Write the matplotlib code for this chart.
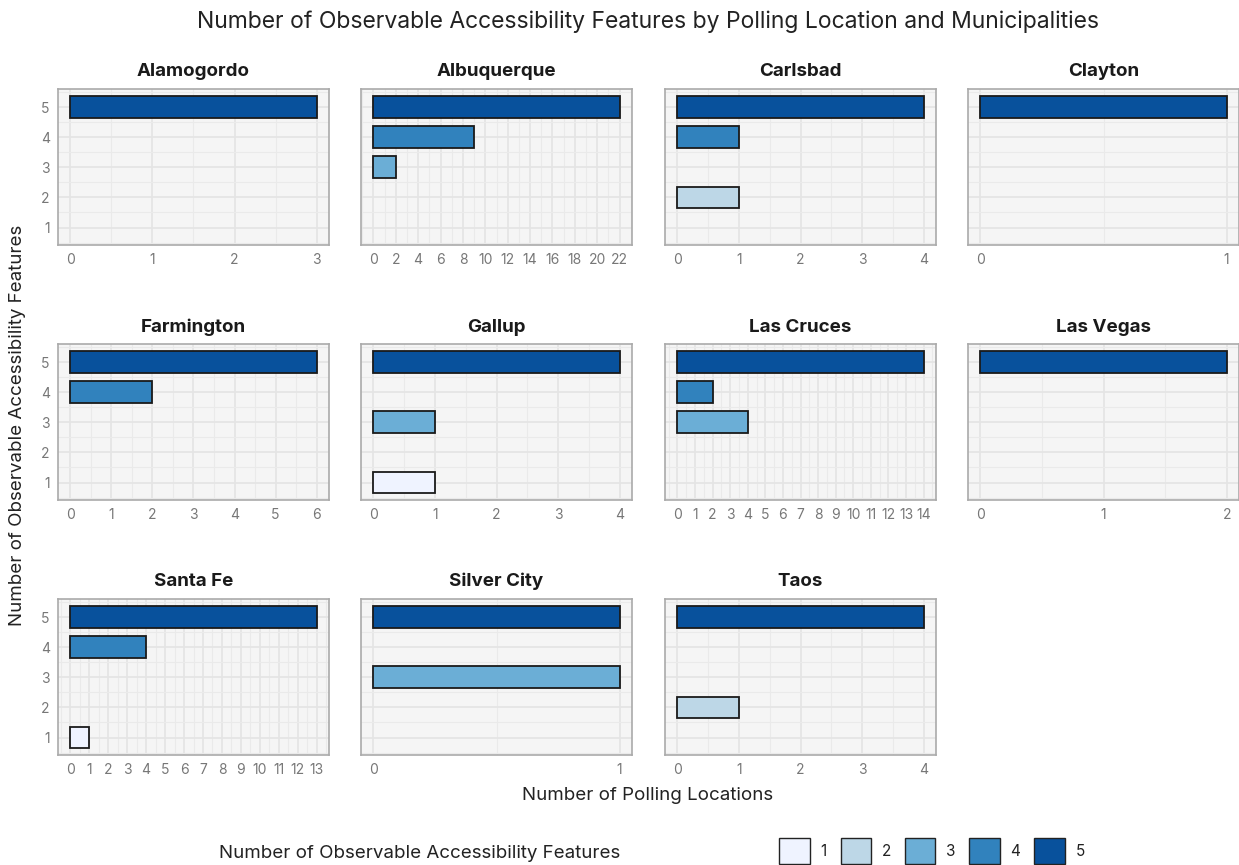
import numpy as np
import matplotlib
matplotlib.use("Agg")
import matplotlib.pyplot as plt
from matplotlib.patches import Patch
from matplotlib.ticker import MultipleLocator

plt.rcParams['font.family'] = ['Inter', 'DejaVu Sans']

# facet data: municipality -> (feature counts, number of polling locations)
municipalities = ["Alamogordo", "Albuquerque", "Carlsbad", "Clayton",
                  "Farmington", "Gallup", "Las Cruces", "Las Vegas",
                  "Santa Fe", "Silver City", "Taos"]
features = [
    [5],
    [5, 4, 3],
    [5, 4, 2],
    [5],
    [5, 4],
    [5, 3, 1],
    [5, 4, 3],
    [5],
    [5, 4, 1],
    [5, 3],
    [5, 2],
]
locations = [
    [3],
    [22, 9, 2],
    [4, 1, 1],
    [1],
    [6, 2],
    [4, 1, 1],
    [14, 2, 4],
    [2],
    [13, 4, 1],
    [1, 1],
    [4, 1],
]
x_steps = [1, 2, 1, 1, 1, 1, 1, 1, 1, 1, 1]

levels = [1, 2, 3, 4, 5]
colors = ["#eff3ff", "#bdd7e7", "#6baed6", "#3182bd", "#08519c"]

W, H = 1239, 865
fig = plt.figure(figsize=(W / 100, H / 100), dpi=100)

col_left = [58, 361, 665, 968]
row_top = [89, 344, 599]
pw, ph = 271, 156

tick_col = "#777777"
for i, name in enumerate(municipalities):
    r, c = divmod(i, 4)
    ax = fig.add_axes([col_left[c] / W, 1 - (row_top[r] + ph) / H, pw / W, ph / H])
    ax.set_facecolor("#f5f5f5")
    ax.barh(features[i], locations[i], height=0.72,
            color=[colors[f - 1] for f in features[i]],
            edgecolor="#1a1a1a", linewidth=1.3, zorder=3)
    xmax = max(locations[i])
    ax.set_xlim(-0.05 * xmax, 1.05 * xmax)
    ax.set_ylim(0.42, 5.6)
    ax.xaxis.set_major_locator(MultipleLocator(x_steps[i]))
    ax.xaxis.set_minor_locator(MultipleLocator(x_steps[i] / 2))
    ax.yaxis.set_major_locator(MultipleLocator(1))
    ax.yaxis.set_minor_locator(MultipleLocator(0.5))
    ax.grid(which="major", color="#e4e4e4", linewidth=1.2, zorder=0)
    ax.grid(which="minor", color="#eaeaea", linewidth=0.8, zorder=0)
    ax.set_axisbelow(True)
    ax.tick_params(which="both", length=0, labelsize=10, labelcolor=tick_col, pad=6)
    if c != 0:
        ax.tick_params(axis="y", labelleft=False)
    for s in ax.spines.values():
        s.set_color("#aaaaaa")
        s.set_linewidth(1.2)
    ax.set_title(name, fontsize=13.5, fontweight="bold", color="#1a1a1a", pad=9)

fig.text(648 / W, 1 - 22 / H,
         "Number of Observable Accessibility Features by Polling Location and Municipalities",
         ha="center", va="center", fontsize=16.5, color="#222222")
fig.text(648 / W, 1 - 795 / H, "Number of Polling Locations",
         ha="center", va="center", fontsize=13.5, color="#222222")
fig.text(18 / W, 1 - 425 / H, "Number of Observable Accessibility Features",
         ha="center", va="center", rotation=90, fontsize=13.5, color="#222222")

fig.text(420 / W, 1 - 853 / H, "Number of Observable Accessibility Features",
         ha="center", va="center", fontsize=13.5, color="#222222")
handles = [Patch(facecolor=col, edgecolor="#222222", linewidth=1.0) for col in colors]
fig.legend(handles, [str(l) for l in levels], ncol=5, frameon=False,
           loc="center", bbox_to_anchor=(932 / W, 1 - 851 / H),
           handlelength=2.0, handleheight=2.2, handletextpad=0.7,
           columnspacing=0.9, fontsize=11, labelcolor="#222222")

fig.savefig("out.png", dpi=100, facecolor="white")
